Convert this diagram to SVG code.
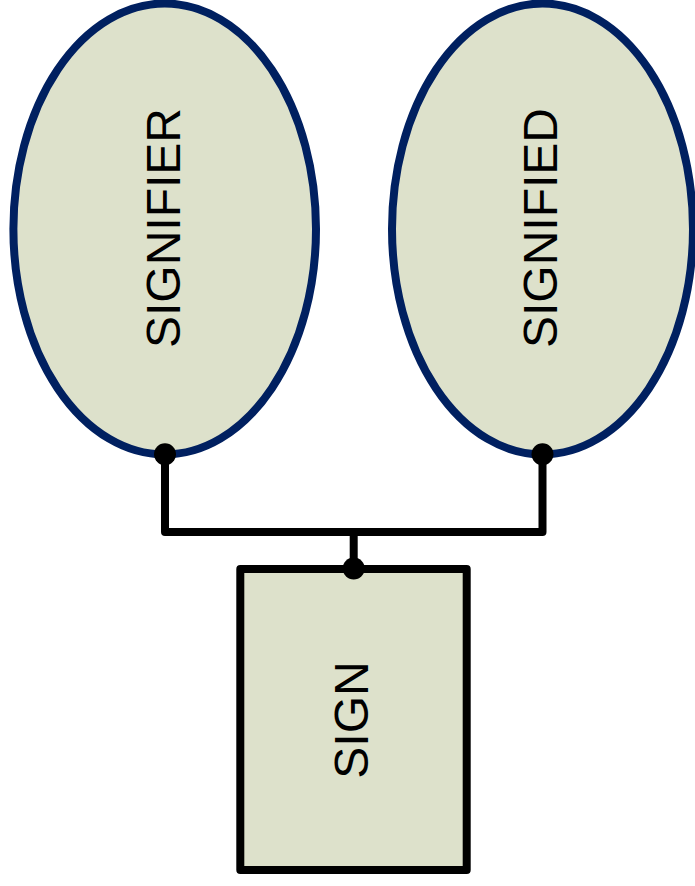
<svg xmlns="http://www.w3.org/2000/svg" width="695" height="886" viewBox="0 0 695 886">
<style>
.node{fill:#DDE1CB;stroke-width:8}
.ell{stroke:#002060}
.box{stroke:#000000;stroke-linejoin:round}
.lbl{font-family:"Liberation Sans",Arial,sans-serif;font-size:48px;fill:#000000;text-anchor:middle}
.conn{fill:none;stroke:#000000;stroke-width:8;stroke-linejoin:round}
.dot{fill:#000000}
</style>
<rect width="695" height="886" fill="#ffffff"/>
<g id="signifier">
<ellipse class="node ell" cx="164.7" cy="229" rx="151.3" ry="225.5"/>
<text class="lbl" transform="translate(180,228) rotate(-90)">SIGNIFIER</text>
</g>
<g id="signified">
<ellipse class="node ell" cx="542.5" cy="229" rx="150.5" ry="225.5"/>
<text class="lbl" transform="translate(557,228) rotate(-90)">SIGNIFIED</text>
</g>
<g id="sign">
<rect class="node box" x="240.3" y="569" width="226.4" height="301"/>
<text class="lbl" transform="translate(368,720) rotate(-90)">SIGN</text>
</g>
<g id="connectors">
<path class="conn" d="M165,454 V532 H542.5 V454"/>
<path class="conn" d="M353.7,532 V568.5"/>
<circle class="dot" cx="165" cy="454.3" r="11"/>
<circle class="dot" cx="542.5" cy="454.3" r="11"/>
<circle class="dot" cx="353.7" cy="568.5" r="11"/>
</g>
</svg>
